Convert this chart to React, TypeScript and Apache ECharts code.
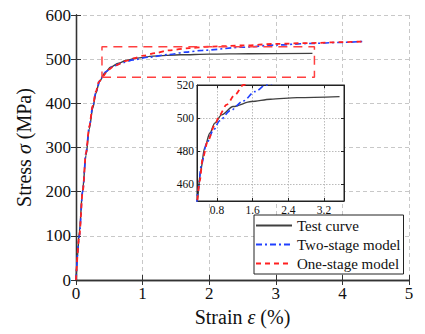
import React, { useEffect, useRef } from "react";
import * as echarts from "echarts";

const FONT = "Liberation Serif";

const testCurve: number[][] = [
  [0, 0], [0.02, 50], [0.05, 110], [0.1, 205], [0.15, 282], [0.2, 342], [0.25, 388],
  [0.3, 423], [0.35, 449], [0.43, 468], [0.52, 482], [0.64, 491], [0.75, 497],
  [0.9, 502], [1.16, 507], [1.57, 510], [2.0, 511.4], [2.6, 512.4], [3.55, 513],
];
const twoStage: number[][] = [
  [0, 0], [0.05, 100], [0.1, 200], [0.15, 288], [0.2, 348], [0.25, 392], [0.3, 426],
  [0.37, 456], [0.45, 472], [0.56, 484.4], [0.71, 492.4], [0.86, 498.4], [1.09, 504.4],
  [1.39, 510.4], [1.65, 516], [1.9, 520], [2.5, 527], [3.0, 532], [3.5, 535.5],
  [4.0, 538], [4.3, 540],
];
const oneStage: number[][] = [
  [0, 0], [0.05, 100], [0.1, 200], [0.15, 288], [0.2, 348], [0.25, 394], [0.3, 427],
  [0.34, 448], [0.41, 462], [0.48, 476], [0.59, 486], [0.75, 496], [0.86, 502],
  [1.01, 508], [1.2, 514], [1.39, 520], [1.7, 525], [2.0, 528.5], [2.5, 531],
  [3.0, 534.5], [3.5, 536.5], [4.0, 538.5], [4.3, 540],
];
const zoomBoxX = [0.39, 3.58];
const zoomBoxY = [459, 528];

const mainXRange = [0, 5];
const mainYRange = [0, 600];
const insetXRange = [0.35, 3.65];
const insetYRange = [450, 520];
const insetXTicks = [0.8, 1.6, 2.4, 3.2];
const insetYTicks = [460, 480, 500, 520];

const seriesNames = ["Test curve", "Two-stage model", "One-stage model"];

export default function App() {
  const ref = useRef<HTMLDivElement>(null);
  useEffect(() => {
    if (!ref.current) return;
    const chart = echarts.init(ref.current, null, { renderer: "svg" });
    const boxData = [
      [zoomBoxX[0], zoomBoxY[0]],
      [zoomBoxX[1], zoomBoxY[0]],
      [zoomBoxX[1], zoomBoxY[1]],
      [zoomBoxX[0], zoomBoxY[1]],
      [zoomBoxX[0], zoomBoxY[0]],
    ];
    const axisLineMain = { show: true, lineStyle: { color: "#333", width: 1.3 } };
    const styles = [
      { color: "#404040", width: 1.4, type: "solid" as any },
      { color: "#2040ff", width: 1.6, type: [6, 3, 2, 3] as any },
      { color: "#ff2020", width: 1.8, type: [5, 4] as any },
    ];
    const datas = [testCurve, twoStage, oneStage];
    const mkSeries = (xi: number, yi: number, z: number) =>
      datas.map((d, i) => ({
        type: "line",
        name: seriesNames[i],
        xAxisIndex: xi,
        yAxisIndex: yi,
        data: d,
        symbol: "none",
        smooth: 0.3,
        smoothMonotone: "x",
        clip: true,
        z,
        lineStyle: styles[i],
        itemStyle: { color: styles[i].color },
      }));

    const label = (size: number, margin: number, extra: any = {}) => ({
      fontFamily: FONT, fontSize: size, color: "#111", margin, ...extra,
    });
    const nameStyle = {
      fontFamily: FONT, fontSize: 20, color: "#111",
      rich: { i: { fontFamily: FONT, fontSize: 20, fontStyle: "italic", color: "#111" } },
    };
    const option: any = {
      animation: false,
      backgroundColor: "#fff",
      textStyle: { fontFamily: FONT },
      grid: [
        { left: 76, right: 16, top: 15, bottom: 54 },
        {
          left: 197, top: 85, width: 147, height: 116, show: true,
          backgroundColor: "#fff", borderColor: "#222", borderWidth: 1, z: 3,
        },
      ],
      legend: {
        data: seriesNames,
        orient: "vertical",
        left: 254,
        top: 215,
        itemWidth: 36,
        itemHeight: 14,
        itemGap: 4,
        padding: [3, 3, 3, 1],
        backgroundColor: "#fff",
        borderColor: "#222",
        borderWidth: 1,
        itemStyle: { opacity: 0, color: "transparent", borderWidth: 0 },
        textStyle: { fontFamily: FONT, fontSize: 15, color: "#111" },
        z: 6,
      },
      xAxis: [
        {
          type: "value", gridIndex: 0, min: mainXRange[0], max: mainXRange[1], interval: 1,
          axisLine: axisLineMain, axisTick: { inside: true, length: 5, lineStyle: { color: "#333" } },
          axisLabel: label(17, 5),
          splitLine: { show: true, lineStyle: { color: "#c8c8c8", type: [4, 3] } },
          name: "Strain {i|ε} (%)", nameLocation: "middle", nameGap: 25,
          nameTextStyle: nameStyle,
        },
        {
          type: "value", gridIndex: 0, position: "top", min: mainXRange[0], max: mainXRange[1], interval: 1,
          axisLine: axisLineMain, axisTick: { inside: true, length: 5, lineStyle: { color: "#333" } },
          axisLabel: { show: false }, splitLine: { show: false },
        },
        {
          type: "value", gridIndex: 1, min: insetXRange[0], max: insetXRange[1], z: 4,
          axisLine: { show: true, lineStyle: { color: "#222", width: 1 } },
          axisTick: { inside: true, length: 3, customValues: insetXTicks, lineStyle: { color: "#222" } },
          axisLabel: label(11.5, 3, { customValues: insetXTicks }),
          splitLine: { show: true, lineStyle: { color: "#bbb", type: [1.5, 1.5] } },
        },
        {
          type: "value", gridIndex: 1, position: "top", min: insetXRange[0], max: insetXRange[1], z: 4,
          axisLine: { show: true, lineStyle: { color: "#222", width: 1 } },
          axisTick: { inside: true, length: 3, customValues: insetXTicks, lineStyle: { color: "#222" } },
          axisLabel: { show: false }, splitLine: { show: false },
        },
      ],
      yAxis: [
        {
          type: "value", gridIndex: 0, min: mainYRange[0], max: mainYRange[1], interval: 100,
          axisLine: axisLineMain, axisTick: { inside: true, length: 5, lineStyle: { color: "#333" } },
          axisLabel: label(17, 5),
          splitLine: { show: true, lineStyle: { color: "#c8c8c8", type: [4, 3] } },
          name: "Stress {i|σ} (MPa)", nameLocation: "middle", nameGap: 42,
          nameTextStyle: nameStyle,
        },
        {
          type: "value", gridIndex: 0, position: "right", min: mainYRange[0], max: mainYRange[1], interval: 100,
          axisLine: axisLineMain, axisTick: { inside: true, length: 5, lineStyle: { color: "#333" } },
          axisLabel: { show: false }, splitLine: { show: false },
        },
        {
          type: "value", gridIndex: 1, min: insetYRange[0], max: insetYRange[1], z: 4,
          axisLine: { show: true, lineStyle: { color: "#222", width: 1 } },
          axisTick: { inside: true, length: 3, customValues: insetYTicks, lineStyle: { color: "#222" } },
          axisLabel: label(11.5, 3, { customValues: insetYTicks }),
          splitLine: { show: true, lineStyle: { color: "#bbb", type: [1.5, 1.5] } },
        },
        {
          type: "value", gridIndex: 1, position: "right", min: insetYRange[0], max: insetYRange[1], z: 4,
          axisLine: { show: true, lineStyle: { color: "#222", width: 1 } },
          axisTick: { inside: true, length: 3, customValues: insetYTicks, lineStyle: { color: "#222" } },
          axisLabel: { show: false }, splitLine: { show: false },
        },
      ],
      series: [
        ...mkSeries(0, 0, 2),
        {
          type: "line", name: "zoom box", xAxisIndex: 0, yAxisIndex: 0, data: boxData,
          symbol: "none", z: 2, lineStyle: { color: "#ff4040", width: 1.5, type: [9, 6] },
        },
        ...mkSeries(2, 2, 5),
      ],
    };
    chart.setOption(option);
    return () => chart.dispose();
  }, []);
  return <div ref={ref} style={{ width: 425, height: 334, position: "absolute", left: 0, top: 0 }} />;
}
